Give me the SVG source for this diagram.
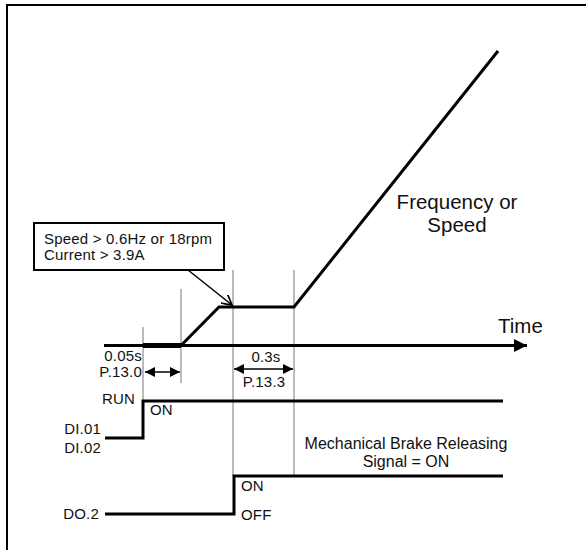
<svg xmlns="http://www.w3.org/2000/svg" width="586" height="550" viewBox="0 0 586 550">
<style>
text{font-family:"Liberation Sans",Arial,sans-serif;fill:#111}
.s{font-size:15px;letter-spacing:0.2px}
.m{font-size:16px}
.l{font-size:20.5px}
.thick{stroke:#000;stroke-width:3;fill:none}
.thin{stroke:#777;stroke-width:1;fill:none}
.dim{stroke:#000;stroke-width:1.5;fill:none}
</style>
<defs>
<marker id="ah" viewBox="0 0 10 10" refX="10" refY="5" markerWidth="10" markerHeight="10" markerUnits="userSpaceOnUse" orient="auto-start-reverse">
<path d="M0,0 L10,5 L0,10 z" fill="#000"/>
</marker>
<marker id="ta" viewBox="0 0 12 12" refX="12" refY="6" markerWidth="13" markerHeight="13" markerUnits="userSpaceOnUse" orient="auto">
<path d="M0,0 L12,6 L0,12 z" fill="#000"/>
</marker>
<marker id="va" viewBox="0 0 10 10" refX="9" refY="5" markerWidth="11" markerHeight="11" markerUnits="userSpaceOnUse" orient="auto">
<path d="M0,0 L9,5 L0,10" fill="none" stroke="#000" stroke-width="1.6"/>
</marker>
</defs>
<rect x="0" y="0" width="586" height="550" fill="#fff"/>
<rect x="7" y="5" width="600" height="600" fill="none" stroke="#000" stroke-width="2"/>
<g id="guides">
<line class="thin" x1="143" y1="327" x2="143" y2="401"/>
<line class="thin" x1="181" y1="289" x2="181" y2="383"/>
<line class="thin" x1="233" y1="270" x2="233" y2="476"/>
<line class="thin" x1="294" y1="270" x2="294" y2="476"/>
</g>
<g id="time-axis">
<line class="thick" x1="104" y1="345.5" x2="527" y2="345.5" marker-end="url(#ta)"/>
<text class="l" x="498" y="333">Time</text>
</g>
<g id="frequency">
<path d="M143,345.5 L181,345.5" stroke="#000" stroke-width="5" fill="none"/>
<path class="thick" d="M181,345.5 L219,307 L294,307 L498,51"/>
<text class="l" x="457" y="209" text-anchor="middle">Frequency or</text>
<text class="l" x="457" y="232" text-anchor="middle">Speed</text>
</g>
<g id="condition-box">
<rect x="34" y="223" width="190" height="47" fill="#fff" stroke="#000" stroke-width="2"/>
<text class="s" x="44" y="244">Speed &gt; 0.6Hz or 18rpm</text>
<text class="s" x="44" y="260">Current &gt; 3.9A</text>
</g>
<g id="connectors">
<line class="dim" x1="188" y1="270" x2="232" y2="305" marker-end="url(#va)"/>
<line class="dim" x1="145" y1="372" x2="180" y2="372" marker-start="url(#ah)" marker-end="url(#ah)"/>
<line class="dim" x1="234" y1="369" x2="293" y2="369" marker-start="url(#ah)" marker-end="url(#ah)"/>
</g>
<g id="p13-0">
<text class="s" x="142" y="361" text-anchor="end">0.05s</text>
<text class="s" x="142" y="377" text-anchor="end">P.13.0</text>
</g>
<g id="p13-3">
<text class="s" x="266" y="362" text-anchor="middle">0.3s</text>
<text class="s" x="264" y="387" text-anchor="middle">P.13.3</text>
</g>
<g id="run-signal">
<path class="thick" d="M105,438 L143,438 L143,401 L503,401"/>
<text class="s" x="135" y="404" text-anchor="end">RUN</text>
<text class="s" x="150" y="415">ON</text>
<text class="s" x="101" y="434" text-anchor="end">DI.01</text>
<text class="s" x="101" y="453" text-anchor="end">DI.02</text>
</g>
<g id="do-signal">
<path class="thick" d="M105,514 L234,514 L234,476 L503,476"/>
<text class="s" x="99" y="519" text-anchor="end">DO.2</text>
<text class="s" x="241" y="491">ON</text>
<text class="s" x="241" y="520">OFF</text>
<text class="m" x="406" y="449" text-anchor="middle">Mechanical Brake Releasing</text>
<text class="m" x="406" y="467" text-anchor="middle">Signal = ON</text>
</g>
</svg>
